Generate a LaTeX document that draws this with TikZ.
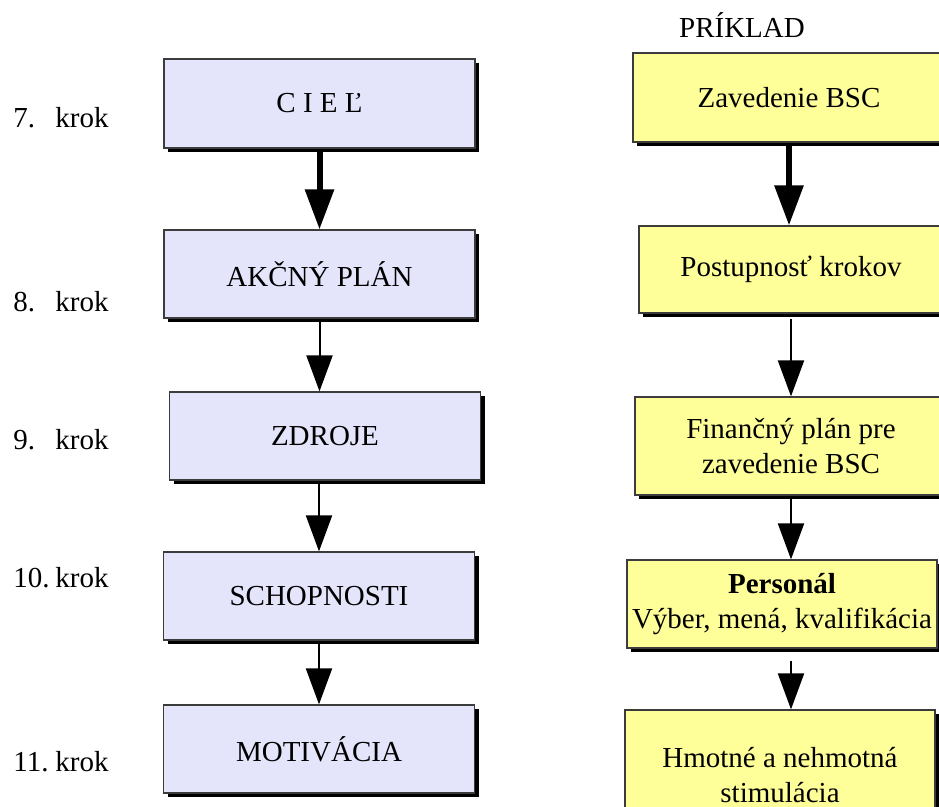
\documentclass[tikz,border=0pt]{standalone}
\usepackage{fontspec}
\setmainfont{Liberation Serif}
\usetikzlibrary{arrows.meta, shadows}
\definecolor{KrokLavender}{HTML}{E4E4FA}
\definecolor{PrikladYellow}{HTML}{FFFF99}
\definecolor{BoxBorder}{HTML}{3C3C3C}
\tikzset{
    % Box styles - sharp corners, black drop shadow
    krokbox/.style={
        rectangle,
        draw=BoxBorder,
        fill=KrokLavender,
        line width=0.6pt,
        minimum width=155.5pt,
        minimum height=44pt,
        align=center,
        drop shadow={shadow xshift=2.2pt, shadow yshift=-2.2pt, fill=black, opacity=1}
    },
    prikladbox/.style={
        rectangle,
        draw=BoxBorder,
        fill=PrikladYellow,
        line width=0.6pt,
        minimum width=155.5pt,
        minimum height=44pt,
        align=center,
        inner sep=1pt,
        drop shadow={shadow xshift=2.2pt, shadow yshift=-2.2pt, fill=black, opacity=1}
    },
    steplabel/.style={
        anchor=west,
        inner sep=0pt
    },
    % Arrow styles - straight lines only
    arrow/.style={
        -{Triangle[width=13pt, length=18pt]},
        line width=1pt,
        draw=black
    },
    thickarrow/.style={
        -{Triangle[width=14pt, length=20pt]},
        line width=3pt,
        draw=black
    }
}

\begin{document}
\begin{tikzpicture}[x=0.5pt, y=-0.5pt, font=\fontsize{14.5}{17.5}\selectfont]
    \useasboundingbox (0,0) rectangle (939,807);
    \clip (0,0) rectangle (939,807);

    % left column: steps
    \node[steplabel] (k7) at (13,118) {\makebox[21pt][l]{7.}krok};
    \node[steplabel] (k8) at (13,302) {\makebox[21pt][l]{8.}krok};
    \node[steplabel] (k9) at (13,440) {\makebox[21pt][l]{9.}krok};
    \node[steplabel] (k10) at (13,578) {\makebox[21pt][l]{10.}krok};
    \node[steplabel] (k11) at (13,762) {\makebox[21pt][l]{11.}krok};

    \node[krokbox, minimum height=44.5pt] (ciel) at (319.5,103.5) {C I E Ľ};
    \node[krokbox] (akcny) at (319.5,274) {AKČNÝ PLÁN};
    \node[krokbox] (zdroje) at (325,436) {ZDROJE};
    \node[krokbox] (schop) at (319,596) {SCHOPNOSTI};
    \node[krokbox] (motiv) at (319,749) {MOTIVÁCIA};

    \draw[thickarrow] (ciel.south) -- (akcny.north);
    \draw[arrow] (akcny.south) -- (akcny.south |- zdroje.north);
    \draw[arrow] (schop.north |- zdroje.south) -- (schop.north);
    \draw[arrow] (schop.south) -- (motiv.north);

    % right column: example
    \node (priklad) at (742,25) {PRÍKLAD};

    \node[prikladbox, minimum width=156pt, minimum height=44.5pt] (zaved) at (789,97.5) {Zavedenie BSC};
    \node[prikladbox, minimum width=152pt, minimum height=43.5pt] (postup) at (791,269.5) {Postupnosť krokov};
    \node[prikladbox, minimum width=156pt, minimum height=49pt] (financ) at (791,446) {Finančný plán pre\\zavedenie BSC};
    \node[prikladbox, minimum width=155pt] (person) at (782,604) {\textbf{Personál}\\Výber, mená, kvalifikácia};
    \node[prikladbox, minimum width=155pt, minimum height=65pt] (hmot) at (780,775) {Hmotné a nehmotná\\stimulácia};

    \draw[thickarrow] (zaved.south) -- (zaved.south |- postup.north);
    \draw[arrow, shorten <=2.5pt] (postup.south) -- (postup.south |- financ.north);
    \draw[arrow] (financ.south) -- (financ.south |- person.north);
    \draw[arrow, shorten <=6pt] (person.south -| postup.south) -- (postup.south |- hmot.north);
\end{tikzpicture}
\end{document}
